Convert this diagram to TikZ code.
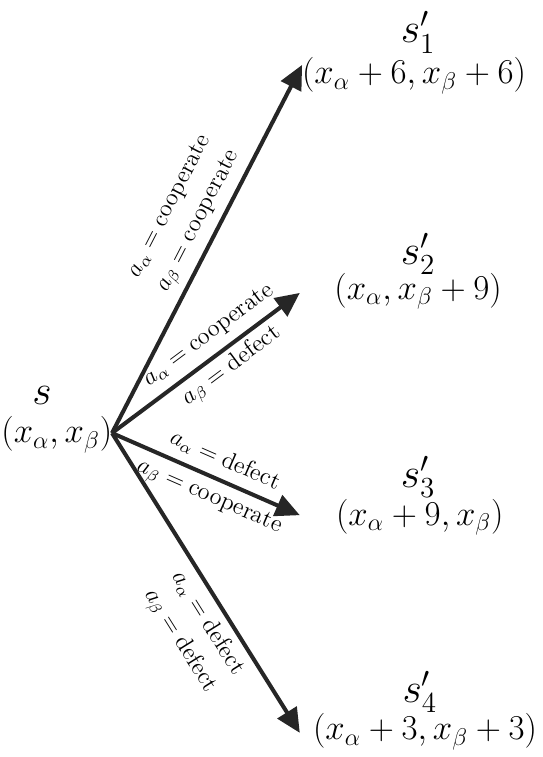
\documentclass[tikz,border=0pt]{standalone}
\usepackage{amsmath}
\usetikzlibrary{arrows.meta}

\begin{document}
\begin{tikzpicture}
\useasboundingbox (0,0) rectangle (9.45,13.18);
\coordinate (O) at (1.95,5.64);
\coordinate (A) at (5.26,12.05);
\coordinate (B) at (5.22,8.08);
\coordinate (C) at (5.22,4.21);
\coordinate (D) at (5.22,0.42);
\tikzset{move/.style={black!85,line width=2pt,-{Triangle[length=12pt,width=11pt]}},
  act/.style={sloped,align=center,font=\large,black},
  pay/.style={font=\fontsize{18.2}{22}\selectfont}}
\draw[move] (O)--(A) node[act,above,pos=0.55] {$a_\alpha = \text{cooperate}$\\[2pt]$a_\beta = \text{cooperate}$};
\draw[move] (O)--(B) node[act,pos=0.58] {$a_\alpha = \text{cooperate}$\\[5pt]$a_\beta = \text{defect}$};
\draw[move] (O)--(C) node[act,pos=0.56] {$a_\alpha = \text{defect}$\\[5pt]$a_\beta = \text{cooperate}$};
\draw[move] (O)--(D) node[act,below,pos=0.6] {$a_\alpha = \text{defect}$\\[2pt]$a_\beta = \text{defect}$};
\node (S) at (0.73,6.3) {\huge $s$};
\node[pay] (P) at (0.99,5.61) {$(x_\alpha,x_\beta)$};
\node (S1) at (7.28,12.62) {\huge $s'_1$};
\node[pay] (P1) at (7.21,11.86) {$(x_\alpha+6,x_\beta+6)$};
\node (S2) at (7.28,8.76) {\huge $s'_2$};
\node[pay] (P2) at (7.28,8.11) {$(x_\alpha,x_\beta+9)$};
\node (S3) at (7.28,4.88) {\huge $s'_3$};
\node[pay] (P3) at (7.31,4.18) {$(x_\alpha+9,x_\beta)$};
\node (S4) at (7.31,1.13) {\huge $s'_4$};
\node[pay] (P4) at (7.40,0.44) {$(x_\alpha+3,x_\beta+3)$};
\end{tikzpicture}
\end{document}
